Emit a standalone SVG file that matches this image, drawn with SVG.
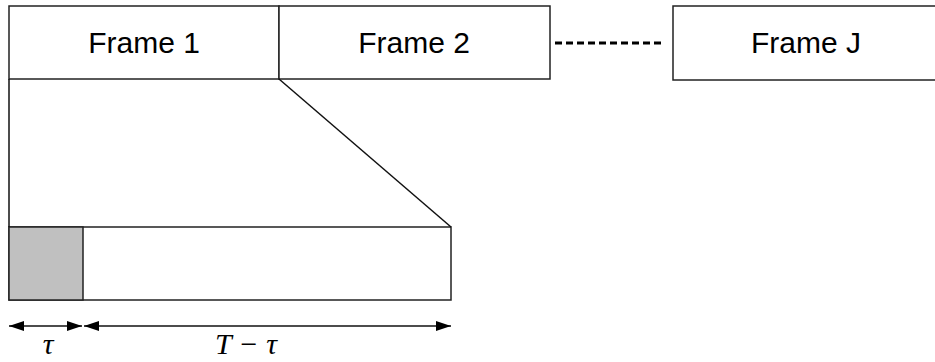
<svg xmlns="http://www.w3.org/2000/svg" width="935" height="362" viewBox="0 0 935 362">
<defs>
<style>
.box{fill:#fff;stroke:#222;stroke-width:1.5}
.ln{fill:none;stroke:#111;stroke-width:1.5}
.lbl{font-family:"Liberation Sans",Arial,sans-serif;font-size:30px;fill:#000;text-anchor:middle}
.math{font-family:"Liberation Serif","Times New Roman",serif;font-style:italic;font-size:30px;fill:#000;text-anchor:middle}
</style>
<marker id="ah" viewBox="0 0 15 10" refX="15" refY="5" markerWidth="15" markerHeight="10" markerUnits="userSpaceOnUse" orient="auto-start-reverse">
<path d="M0,0 L15,5 L0,10 Z" fill="#000"/>
</marker>
</defs>
<rect width="935" height="362" fill="#fff"/>
<g id="frame1">
<rect class="box" x="9" y="6" width="270" height="73"/>
<text class="lbl" x="144" y="53">Frame 1</text>
</g>
<g id="frame2">
<rect class="box" x="279" y="6" width="271" height="73"/>
<text class="lbl" x="414" y="53">Frame 2</text>
</g>
<g id="frameJ">
<rect class="box" x="673" y="6" width="280" height="74"/>
<text class="lbl" x="806" y="53">Frame J</text>
</g>
<g id="slot">
<rect class="box" x="9" y="227" width="442" height="73"/>
<rect x="9" y="227" width="74" height="73" fill="#c0c0c0" stroke="#222" stroke-width="1.5"/>
</g>
<g id="connectors">
<line x1="555" y1="43" x2="662" y2="43" stroke="#000" stroke-width="3" stroke-dasharray="7 4"/>
<line class="ln" x1="9" y1="79" x2="9" y2="227"/>
<line class="ln" x1="279" y1="79" x2="451" y2="227"/>
<line class="ln" x1="9" y1="326" x2="82" y2="326" marker-start="url(#ah)" marker-end="url(#ah)"/>
<line class="ln" x1="84" y1="326" x2="451" y2="326" marker-start="url(#ah)" marker-end="url(#ah)"/>
</g>
<g id="labels">
<text class="math" x="48" y="354">τ</text>
<text class="math" x="246" y="354">T − τ</text>
</g>
</svg>
